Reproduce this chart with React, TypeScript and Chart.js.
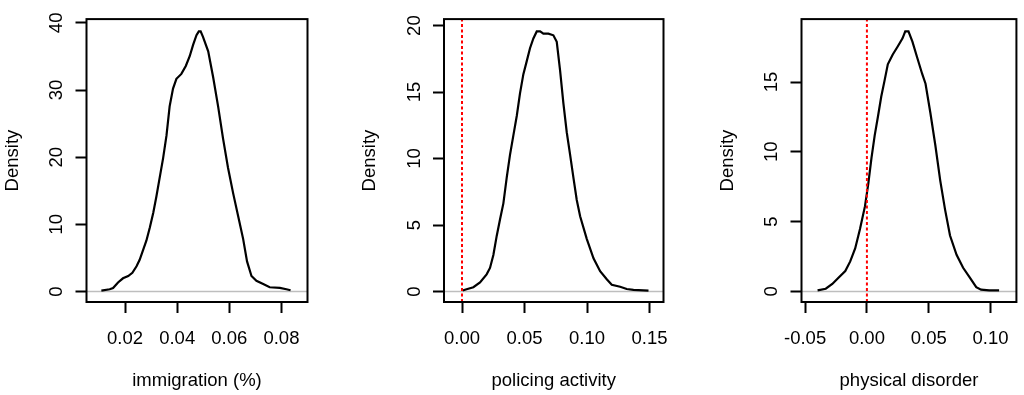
import React, { useEffect, useRef } from "react";
import { Chart, registerables } from "chart.js";

Chart.register(...registerables);

// ---------- Panel 1: immigration (%) ----------
const immigrationX = [
  0.0109, 0.0141, 0.0154, 0.0173, 0.0192, 0.0212, 0.0228, 0.0244, 0.0256, 0.0269,
  0.0282, 0.0295, 0.0308, 0.032, 0.0333, 0.0346, 0.0359, 0.0371, 0.0384, 0.0397,
  0.0416, 0.0433, 0.0448, 0.0461, 0.0474, 0.0483, 0.049, 0.0499, 0.0519, 0.0538,
  0.0557, 0.0576, 0.0595, 0.0615, 0.0634, 0.0653, 0.0668, 0.0685, 0.0704, 0.073,
  0.0755, 0.0794, 0.0819, 0.0835,
];
const immigrationDensity = [
  0.14, 0.34, 0.53, 1.35, 1.97, 2.31, 2.79, 3.75, 4.72, 6.16,
  7.6, 9.53, 11.69, 14.1, 16.99, 19.87, 23.24, 27.57, 30.22, 31.67,
  32.4, 33.59, 35.03, 36.72, 38.16, 38.74, 38.74, 37.92, 35.76, 31.91,
  27.57, 22.76, 18.43, 14.58, 11.21, 7.84, 4.48, 2.31, 1.59, 1.11,
  0.63, 0.53, 0.34, 0.19,
];
const immigrationXTicks = [0.02, 0.04, 0.06, 0.08];
const immigrationXLabels = ["0.02", "0.04", "0.06", "0.08"];
const immigrationYTicks = [0, 10, 20, 30, 40];
const immigrationYLabels = ["0", "10", "20", "30", "40"];
const immigrationXRange = [0.0052, 0.09];
const immigrationYRange = [-1.56, 40.56];

// ---------- Panel 2: policing activity ----------
const policingX = [
  0.0005, 0.0037, 0.0091, 0.0144, 0.0197, 0.0224, 0.0251, 0.0278, 0.0304, 0.0331,
  0.0358, 0.0384, 0.0411, 0.0438, 0.0464, 0.0491, 0.0518, 0.0544, 0.0571, 0.0598,
  0.0625, 0.0651, 0.0691, 0.0731, 0.0758, 0.0785, 0.0811, 0.0838, 0.0865, 0.0891,
  0.0918, 0.0945, 0.0998, 0.1052, 0.1105, 0.1158, 0.1198, 0.1265, 0.1318, 0.1372,
  0.1492,
];
const policingDensity = [
  0.07, 0.17, 0.32, 0.68, 1.29, 1.77, 2.75, 4.2, 5.42, 6.63,
  8.58, 10.28, 11.74, 13.2, 14.9, 16.35, 17.33, 18.3, 19.03, 19.56,
  19.56, 19.39, 19.39, 19.27, 18.78, 16.6, 14.17, 11.98, 10.28, 8.58,
  6.88, 5.66, 3.96, 2.5, 1.53, 0.92, 0.51, 0.36, 0.19, 0.12,
  0.07,
];
const policingXTicks = [0, 0.05, 0.1, 0.15];
const policingXLabels = ["0.00", "0.05", "0.10", "0.15"];
const policingYTicks = [0, 5, 10, 15, 20];
const policingYLabels = ["0", "5", "10", "15", "20"];
const policingXRange = [-0.0144, 0.1612];
const policingYRange = [-0.79, 20.49];

// ---------- Panel 3: physical disorder ----------
const disorderX = [
  -0.0399, -0.0333, -0.028, -0.0228, -0.0175, -0.0135, -0.0095, -0.0056, -0.0016, 0.0011,
  0.0037, 0.0063, 0.009, 0.0116, 0.0143, 0.0169, 0.0209, 0.0249, 0.0288, 0.031,
  0.0336, 0.0368, 0.0407, 0.0447, 0.0474, 0.0513, 0.0553, 0.0593, 0.0632, 0.0672,
  0.0725, 0.0778, 0.0831, 0.0884, 0.0923, 0.0989, 0.1069,
];
const disorderDensity = [
  0.07, 0.19, 0.53, 1.0, 1.46, 2.15, 3.08, 4.47, 6.09, 7.71,
  9.56, 11.18, 12.57, 13.96, 15.12, 16.27, 16.97, 17.55, 18.13, 18.63,
  18.63, 17.89, 16.74, 15.58, 14.88, 12.8, 10.49, 7.94, 5.86, 4.0,
  2.62, 1.69, 1.0, 0.3, 0.12, 0.07, 0.07,
];
const disorderXTicks = [-0.05, 0, 0.05, 0.1];
const disorderXLabels = ["-0.05", "0.00", "0.05", "0.10"];
const disorderYTicks = [0, 5, 10, 15];
const disorderYLabels = ["0", "5", "10", "15"];
const disorderXRange = [-0.0529, 0.1209];
const disorderYRange = [-0.76, 19.51];

const yTitle = "Density";
const xTitles = ["immigration (%)", "policing activity", "physical disorder"];
const zeroRefLine = [false, true, true];

// ---------- layout (pixels) ----------
const W = 1024;
const H = 395;
const BOX_TOP = 10.5;
const BOX_BOTTOM = 302;
const Y_AXIS_W = 87;
const boxLefts = [86.5, 444, 801.5];
const boxRights = [307.5, 663.5, 1020.5];
const FONT = "'Liberation Sans', Arial, Helvetica, sans-serif";
const FONT_SIZE = 18.5;

type PanelDef = {
  xs: number[];
  ys: number[];
  xTicks: number[];
  xLabels: string[];
  yTicks: number[];
  yLabels: string[];
  xRange: number[];
  yRange: number[];
};

const panels: PanelDef[] = [
  {
    xs: immigrationX, ys: immigrationDensity,
    xTicks: immigrationXTicks, xLabels: immigrationXLabels,
    yTicks: immigrationYTicks, yLabels: immigrationYLabels,
    xRange: immigrationXRange, yRange: immigrationYRange,
  },
  {
    xs: policingX, ys: policingDensity,
    xTicks: policingXTicks, xLabels: policingXLabels,
    yTicks: policingYTicks, yLabels: policingYLabels,
    xRange: policingXRange, yRange: policingYRange,
  },
  {
    xs: disorderX, ys: disorderDensity,
    xTicks: disorderXTicks, xLabels: disorderXLabels,
    yTicks: disorderYTicks, yLabels: disorderYLabels,
    xRange: disorderXRange, yRange: disorderYRange,
  },
];

const boxPlugin = {
  id: "rbox",
  afterDraw(chart: any) {
    const { ctx, chartArea: a } = chart;
    ctx.save();
    ctx.strokeStyle = "#000";
    ctx.lineWidth = 2;
    ctx.strokeRect(a.left, a.top, a.right - a.left, a.bottom - a.top);
    ctx.restore();
  },
};

function makeConfig(p: PanelDef, i: number): any {
  const datasets: any[] = [];
  if (zeroRefLine[i]) {
    datasets.push({
      data: [
        { x: 0, y: p.yRange[0] },
        { x: 0, y: p.yRange[1] },
      ],
      borderColor: "#ff0000",
      borderWidth: 2,
      borderDash: [3, 2.5],
      pointRadius: 0,
      tension: 0,
      order: 0,
    });
  }
  datasets.push({
    data: p.xs.map((x, k) => ({ x, y: p.ys[k] })),
    borderColor: "#000",
    borderWidth: 2.2,
    pointRadius: 0,
    tension: 0,
    order: 1,
  });
  datasets.push({
    data: [
      { x: p.xRange[0], y: 0 },
      { x: p.xRange[1], y: 0 },
    ],
    borderColor: "#bebebe",
    borderWidth: 1.5,
    pointRadius: 0,
    tension: 0,
    order: 2,
  });

  return {
    type: "line",
    data: { datasets },
    plugins: [boxPlugin],
    options: {
      animation: false,
      responsive: false,
      events: [],
      layout: {
        padding: {
          left: boxLefts[i] - Y_AXIS_W,
          right: W - boxRights[i],
          top: BOX_TOP,
          bottom: 0,
        },
      },
      plugins: { legend: { display: false }, tooltip: { enabled: false } },
      scales: {
        x: {
          type: "linear",
          min: p.xRange[0],
          max: p.xRange[1],
          afterBuildTicks: (s: any) => {
            s.ticks = p.xTicks.map((v) => ({ value: v }));
          },
          afterFit: (s: any) => {
            s.height = H - BOX_BOTTOM;
          },
          grid: {
            drawOnChartArea: false,
            drawTicks: true,
            tickLength: 11,
            tickWidth: 2,
            tickColor: "#000",
          },
          border: { display: false },
          ticks: {
            autoSkip: false,
            maxRotation: 0,
            minRotation: 0,
            padding: 15,
            color: "#000",
            font: { family: FONT, size: FONT_SIZE },
            callback: (_v: any, idx: number) => p.xLabels[idx],
          },
          title: {
            display: true,
            text: xTitles[i],
            color: "#000",
            font: { family: FONT, size: FONT_SIZE },
            padding: { top: 0, bottom: 3 },
          },
        },
        y: {
          type: "linear",
          min: p.yRange[0],
          max: p.yRange[1],
          afterBuildTicks: (s: any) => {
            s.ticks = p.yTicks.map((v) => ({ value: v }));
          },
          afterFit: (s: any) => {
            s.width = Y_AXIS_W;
          },
          grid: {
            drawOnChartArea: false,
            drawTicks: true,
            tickLength: 11,
            tickWidth: 2,
            tickColor: "#000",
          },
          border: { display: false },
          ticks: {
            autoSkip: false,
            minRotation: 90,
            maxRotation: 90,
            crossAlign: "center",
            padding: 8,
            color: "#000",
            font: { family: FONT, size: FONT_SIZE },
            callback: (_v: any, idx: number) => p.yLabels[idx],
          },
          title: {
            display: true,
            text: yTitle,
            color: "#000",
            font: { family: FONT, size: FONT_SIZE },
            padding: { top: 2, bottom: 0 },
          },
        },
      },
    },
  };
}

function Panel({ def, index }: { def: PanelDef; index: number }) {
  const ref = useRef<HTMLCanvasElement | null>(null);
  useEffect(() => {
    if (!ref.current) return;
    const chart = new Chart(ref.current, makeConfig(def, index));
    return () => chart.destroy();
  }, [def, index]);
  return (
    <canvas
      ref={ref}
      width={W}
      height={H}
      style={{ position: "absolute", left: 0, top: 0, width: W, height: H }}
    />
  );
}

export default function App() {
  return (
    <div
      style={{
        position: "fixed",
        left: 0,
        top: 0,
        width: W,
        height: H,
        background: "#fff",
        overflow: "hidden",
      }}
    >
      {panels.map((p, i) => (
        <Panel key={i} def={p} index={i} />
      ))}
    </div>
  );
}
